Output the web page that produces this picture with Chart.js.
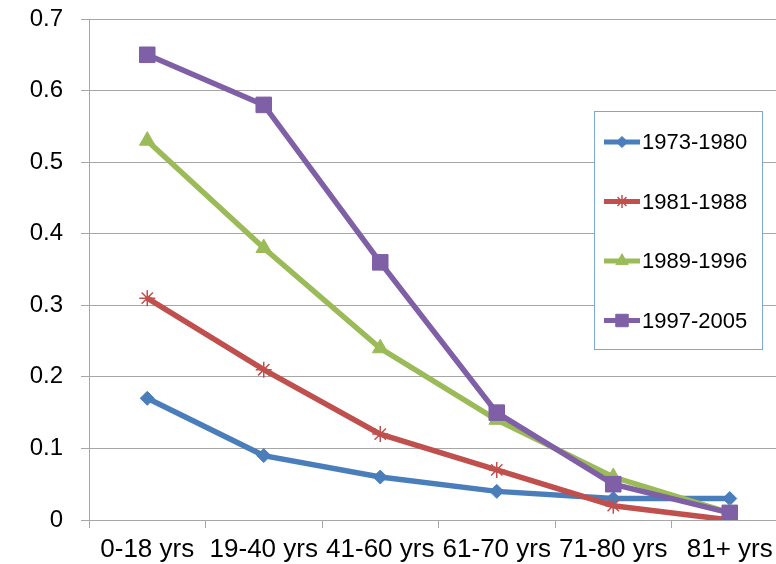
<!DOCTYPE html>
<html>
<head>
<meta charset="utf-8">
<script src="https://cdn.jsdelivr.net/npm/chart.js@4"></script>
<style>
  html, body { margin: 0; padding: 0; background: #fff; overflow: hidden; }
  #wrap { width: 776px; height: 564px; overflow: hidden; position: relative; }
  #chart { position: absolute; left: 0; top: 0; }
</style>
</head>
<body>
<div id="wrap"><canvas id="chart" width="800" height="564"></canvas></div>
<script>
const categories = ['0-18 yrs', '19-40 yrs', '41-60 yrs', '61-70 yrs', '71-80 yrs', '81+ yrs'];
const seriesNames = ['1973-1980', '1981-1988', '1989-1996', '1997-2005'];
const values1973 = [0.17, 0.09, 0.06, 0.04, 0.03, 0.03];
const values1981 = [0.31, 0.21, 0.12, 0.07, 0.02, 0.00];
const values1989 = [0.53, 0.38, 0.24, 0.14, 0.06, 0.01];
const values1997 = [0.65, 0.58, 0.36, 0.15, 0.05, 0.01];
const yTicks = [0, 0.1, 0.2, 0.3, 0.4, 0.5, 0.6, 0.7];

const FONT = 'Liberation Sans, Arial, sans-serif';
const GRID = '#a6a6a6';

function series(label, data, color, style, radius, order) {
    return {
        label: label,
        data: data,
        borderColor: color,
        backgroundColor: color,
        borderWidth: 5.5,
        tension: 0,
        pointStyle: style,
        pointRadius: radius,
        pointHoverRadius: radius,
        pointBorderWidth: style === 'star' ? 1.5 : 1,
        pointBackgroundColor: color,
        pointBorderColor: color,
        order: order
    };
}

// legend box drawn inside the plot, like the original
const boxLegend = {
    id: 'boxLegend',
    afterDraw(chart) {
        const ctx = chart.ctx;
        const x = 594, y = 111, w = 168, h = 238;
        ctx.save();
        ctx.fillStyle = '#ffffff';
        ctx.fillRect(x, y, w, h);
        ctx.strokeStyle = '#7ea6d8';
        ctx.lineWidth = 1;
        ctx.strokeRect(x + 0.5, y + 0.5, w, h);
        ctx.font = '22px ' + FONT;
        ctx.textBaseline = 'middle';
        chart.data.datasets.forEach(function (ds, i) {
            const ly = 142 + i * 59.5;
            ctx.strokeStyle = ds.borderColor;
            ctx.lineWidth = 5;
            ctx.beginPath();
            ctx.moveTo(604, ly);
            ctx.lineTo(640, ly);
            ctx.stroke();
            ctx.fillStyle = ds.borderColor;
            ctx.lineWidth = ds.pointBorderWidth;
            Chart.helpers.drawPoint(ctx, {
                pointStyle: ds.pointStyle,
                radius: ds.pointRadius * 0.8,
                rotation: 0,
                borderWidth: ds.pointBorderWidth
            }, 622, ly);
            ctx.fillStyle = '#000';
            ctx.fillText(ds.label, 642, ly + 1);
        });
        ctx.restore();
    }
};

new Chart(document.getElementById('chart').getContext('2d'), {
    type: 'line',
    data: {
        labels: categories,
        datasets: [
            series(seriesNames[0], values1973, '#4a7ebb', 'rectRot', 7, 3),
            series(seriesNames[1], values1981, '#c0504d', 'star', 8, 2),
            series(seriesNames[2], values1989, '#9bbb59', 'triangle', 9, 1),
            series(seriesNames[3], values1997, '#7f5fa6', 'rect', 11, 0)
        ]
    },
    options: {
        responsive: false,
        animation: false,
        layout: { padding: { top: 19, right: 9, left: 0, bottom: 0 } },
        plugins: {
            legend: { display: false },
            tooltip: { enabled: false }
        },
        scales: {
            x: {
                offset: true,
                grid: {
                    offset: true,
                    drawOnChartArea: false,
                    drawTicks: true,
                    tickLength: 8,
                    color: GRID
                },
                border: { display: true, color: GRID },
                ticks: {
                    color: '#000',
                    font: { family: FONT, size: 26 },
                    padding: 6,
                    maxRotation: 0,
                    autoSkip: false
                },
                afterFit(axis) {
                    axis.height = 44;
                    axis.paddingLeft = 0;
                    axis.paddingRight = 0;
                }
            },
            y: {
                min: 0,
                max: 0.7,
                afterBuildTicks(axis) {
                    axis.ticks = yTicks.map(function (v) { return { value: v }; });
                },
                grid: {
                    color: GRID,
                    tickLength: 8,
                    drawTicks: true
                },
                border: { display: true, color: GRID },
                ticks: {
                    color: '#000',
                    font: { family: FONT, size: 24 },
                    padding: 18,
                    callback: function (v) { return v === 0 ? '0' : v.toFixed(1); }
                },
                afterFit(axis) {
                    axis.width = 89;
                    axis.paddingTop = 0;
                    axis.paddingBottom = 0;
                }
            }
        }
    },
    plugins: [boxLegend]
});
</script>
</body>
</html>
